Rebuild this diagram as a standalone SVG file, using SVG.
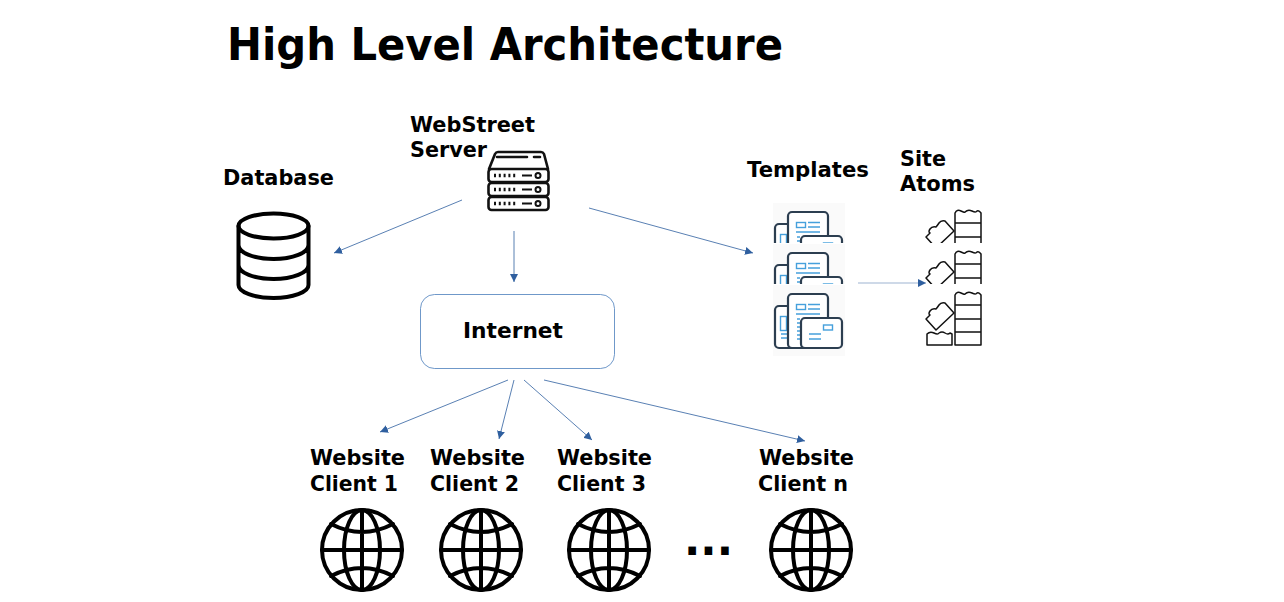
<svg xmlns="http://www.w3.org/2000/svg" width="1284" height="602" viewBox="0 0 1284 602">
<style>
text{font-family:"DejaVu Sans","Liberation Sans",sans-serif;font-weight:700;fill:#000}
.l{font-size:22px}
.k{fill:none;stroke:#000;stroke-width:4;stroke-linejoin:round;stroke-linecap:round}
.s{fill:none;stroke:#111;stroke-width:2.600;stroke-linejoin:round;stroke-linecap:round}
.a{fill:none;stroke:#2f5f9f;stroke-width:.8;marker-end:url(#ah)}
.d{fill:#fff;stroke:#2c3e50;stroke-width:2.200}
.b{fill:none;stroke:#45a0dc;stroke-width:1.400}
.t{fill:#fff;stroke:#111;stroke-width:1.500;stroke-linejoin:round}
</style>
<defs>
<marker id="ah" markerUnits="userSpaceOnUse" markerWidth="9" markerHeight="8" refX="8" refY="4" orient="auto"><path d="M0 0L8 4L0 8Z" fill="#2f5f9f"/></marker>
<symbol id="glob" overflow="visible">
<circle cx="0" cy="0" r="40" class="k"/>
<ellipse cx="0" cy="0" rx="18" ry="40" class="k"/>
<path class="k" d="M0-40V40M-40 0H40M-31-26Q0-10 31-26M-31 26Q0 10 31 26"/>
</symbol>
<symbol id="tpl" overflow="visible">
<rect x="773" y="285" width="72" height="71" fill="#fafafa"/>
<rect class="d" x="775" y="306" width="30" height="42" rx="4"/>
<rect class="b" x="780.500" y="316.500" width="6" height="14"/>
<path class="b" d="M781 334h6M781 338h6"/>
<rect class="d" x="788" y="294" width="40" height="54" rx="4"/>
<rect class="b" x="796.500" y="304.500" width="9" height="5"/>
<path class="b" d="M808 304.500h12M808 309h12M796 314h24M797 319h3M797 323h3M797 327h3M797 331h3M797 335h3M797 339h3"/>
<rect class="d" x="801" y="318" width="41" height="30" rx="4"/>
<rect class="b" x="823.500" y="325" width="9" height="5"/>
<path class="b" d="M809 334h12M809 339h12"/>
</symbol>
<symbol id="atom" overflow="visible">
<path class="t" d="M955 345V295Q957 291 961 293T965 294Q968 291 972 293T977 293Q979 292 981 295V345ZM955 305H981M955 319H981M955 332H981"/>
<path class="t" d="M927 345V334Q930 331 934 333T939 333Q942 331 945 333T950 333L952 334V345Z"/>
<path class="t" d="M936 330L954 313 945 303Q941 302 939 305T936 309Q932 308 930 311T930 315L926 319Z"/>
</symbol>
<clipPath id="c1"><rect x="760" y="190" width="240" height="53"/></clipPath>
<clipPath id="c2"><rect x="760" y="243" width="240" height="41"/></clipPath>
</defs>
<rect width="1284" height="602" fill="#fff"/>
<text id="title" x="227" y="60" font-size="44" textLength="556" lengthAdjust="spacingAndGlyphs">High Level Architecture</text>
<g id="connectors">
<path class="a" d="M462 200L334 253"/>
<path class="a" d="M514 231V282"/>
<path class="a" d="M589 208L753 253"/>
<path class="a" d="M858 283H926" stroke-opacity=".6"/>
<path class="a" d="M508 380L380 432"/>
<path class="a" d="M514 380L499 439"/>
<path class="a" d="M524 380L592 440"/>
<path class="a" d="M544 380L805 441"/>
</g>
<g id="database">
<text class="l" x="223" y="185" textLength="111" lengthAdjust="spacingAndGlyphs">Database</text>
<ellipse class="k" cx="273.500" cy="226" rx="35" ry="12.500"/>
<path class="k" d="M238.500 226V285A35 13 0 0 0 308.500 285V226M238.500 245A35 14 0 0 0 308.500 245M238.500 265A35 14 0 0 0 308.500 265"/>
</g>
<g id="server">
<text class="l" x="410" y="132" textLength="125" lengthAdjust="spacingAndGlyphs">WebStreet</text>
<text class="l" x="410" y="157" textLength="77" lengthAdjust="spacingAndGlyphs">Server</text>
<path class="s" d="M489 169L495 154Q496 152 498 152H541Q543 152 544 154L548 169"/>
<path class="s" d="M497 157H527M534 157H540" stroke-width="2"/>
<rect class="s" x="488.500" y="169" width="60" height="13" rx="3"/>
<rect class="s" x="488.500" y="183" width="60" height="13" rx="3"/>
<rect class="s" x="488.500" y="197" width="60" height="13" rx="3"/>
<path d="M494 175.500h23M494 189.500h23M494 203.500h23" fill="none" stroke="#111" stroke-width="3.500" stroke-dasharray="2 2.800"/>
<path d="M522 175.500h10M522 189.500h10M522 203.500h10" fill="none" stroke="#111" stroke-width="2"/>
<circle cx="538" cy="175.500" r="2.500" fill="none" stroke="#111" stroke-width="2"/>
<circle cx="538" cy="189.500" r="2.500" fill="none" stroke="#111" stroke-width="2"/>
<circle cx="538" cy="203.500" r="2.500" fill="none" stroke="#111" stroke-width="2"/>
</g>
<g id="internet">
<rect x="420.500" y="294.500" width="194" height="74" rx="14" fill="#fff" stroke="#4a7ebb" stroke-width=".8"/>
<text class="l" x="463" y="338" textLength="100" lengthAdjust="spacingAndGlyphs">Internet</text>
</g>
<g id="templates">
<text class="l" x="747" y="177" textLength="122" lengthAdjust="spacingAndGlyphs">Templates</text>
<g clip-path="url(#c1)"><use href="#tpl" y="-82"/></g>
<g clip-path="url(#c2)"><use href="#tpl" y="-41"/></g>
<use href="#tpl"/>
</g>
<g id="atoms">
<text class="l" x="900" y="166" textLength="46" lengthAdjust="spacingAndGlyphs">Site</text>
<text class="l" x="900" y="191" textLength="75" lengthAdjust="spacingAndGlyphs">Atoms</text>
<g clip-path="url(#c1)"><use href="#atom" y="-82"/></g>
<g clip-path="url(#c2)"><use href="#atom" y="-41"/></g>
<use href="#atom"/>
</g>
<g id="client1">
<text class="l" x="310" y="465" textLength="95" lengthAdjust="spacingAndGlyphs">Website</text>
<text class="l" x="310" y="491" textLength="88" lengthAdjust="spacingAndGlyphs">Client 1</text>
<use href="#glob" x="362" y="550"/>
</g>
<g id="client2">
<text class="l" x="430" y="465" textLength="95" lengthAdjust="spacingAndGlyphs">Website</text>
<text class="l" x="430" y="491" textLength="89" lengthAdjust="spacingAndGlyphs">Client 2</text>
<use href="#glob" x="481" y="550"/>
</g>
<g id="client3">
<text class="l" x="557" y="465" textLength="95" lengthAdjust="spacingAndGlyphs">Website</text>
<text class="l" x="557" y="491" textLength="89" lengthAdjust="spacingAndGlyphs">Client 3</text>
<use href="#glob" x="609" y="550"/>
</g>
<text id="ellipsis" x="684" y="555" font-size="44" textLength="49" lengthAdjust="spacingAndGlyphs">...</text>
<g id="clientn">
<text class="l" x="759" y="465" textLength="95" lengthAdjust="spacingAndGlyphs">Website</text>
<text class="l" x="758" y="491" textLength="90" lengthAdjust="spacingAndGlyphs">Client n</text>
<use href="#glob" x="811" y="550"/>
</g>
</svg>
